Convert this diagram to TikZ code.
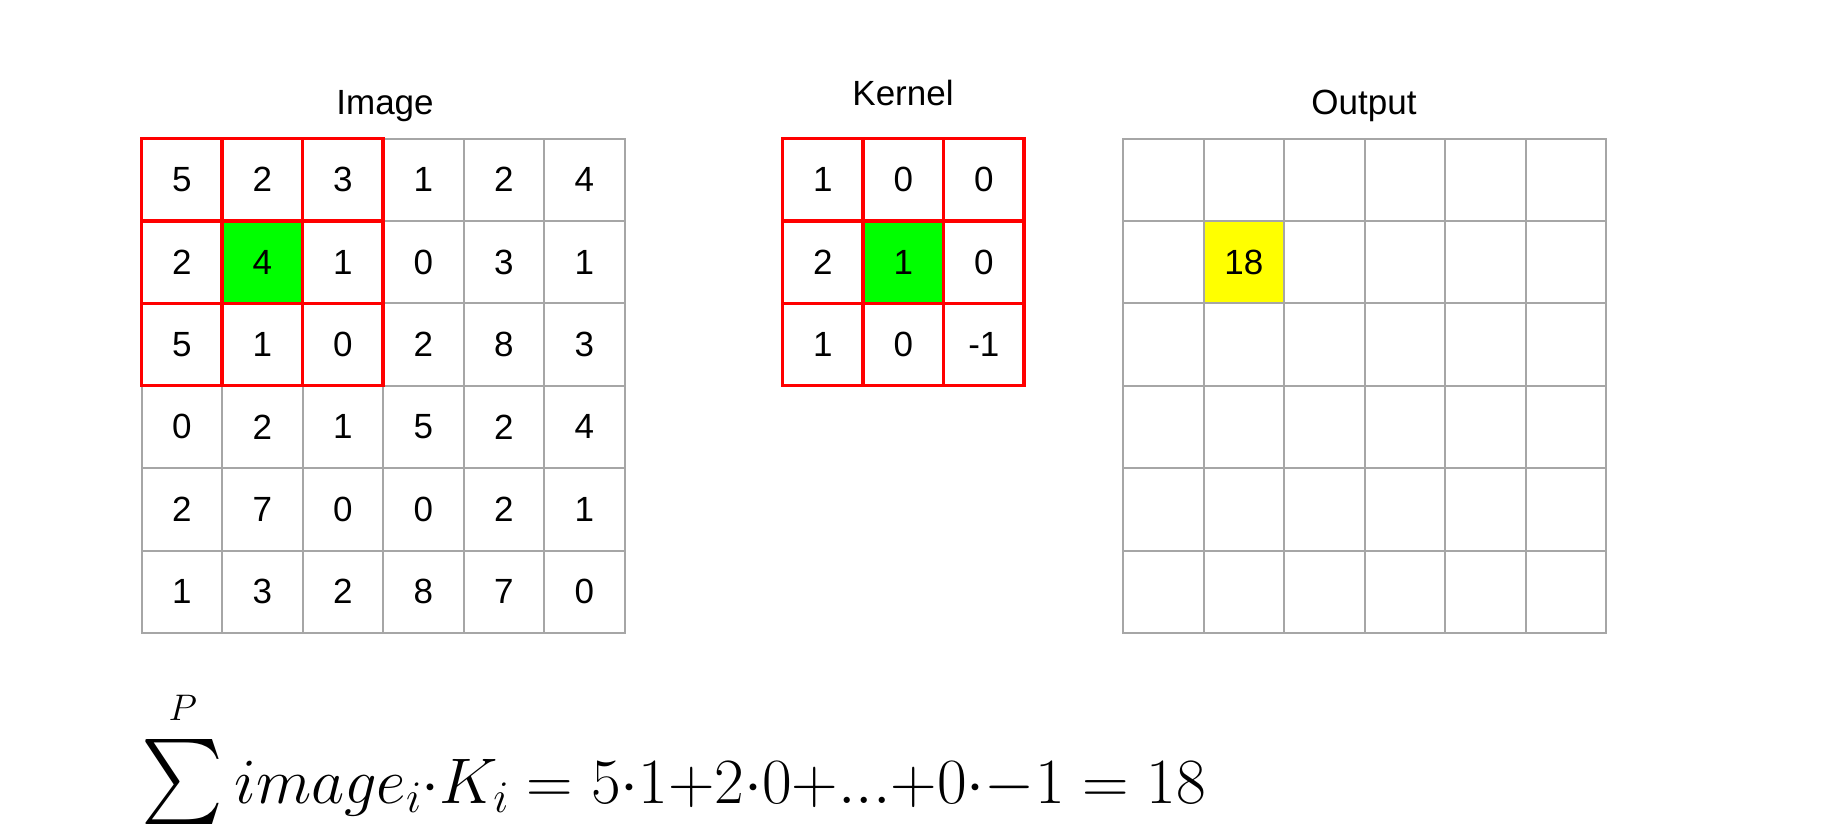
\RequirePackage{fix-cm}
\documentclass[tikz,border=0pt]{standalone}
\usepackage[no-math]{fontspec}
\newfontfamily\arialf{Liberation Sans}
\definecolor{gridgray}{RGB}{166,166,166}
\definecolor{hotred}{RGB}{255,0,0}
\definecolor{hotgreen}{RGB}{0,255,0}
\definecolor{hotyellow}{RGB}{255,255,0}
\newcommand{\bigsumP}{\mathop{\vbox{\hbox to 82pt{\hss\fontsize{37}{40}\selectfont$P$\hss}\kern 13pt\hbox{\resizebox*{82pt}{85pt}{\fontsize{10}{12}\selectfont$\textstyle\sum$}}}}}
\tikzset{
  cell/.style={draw=gridgray, line width=2pt, minimum width=80.5pt, minimum height=82.4pt,
    inner sep=0pt, outer sep=0pt, anchor=center, font=\arialf\fontsize{35}{42}\selectfont},
  hotframe/.style={draw=hotred, line width=3.4pt},
  title/.style={anchor=base, inner sep=0pt, font=\arialf\fontsize{35}{42}\selectfont}
}
\begin{document}
\begin{tikzpicture}[x=1pt,y=-1pt]
\fill[white] (0,0) rectangle (1822,835);
\useasboundingbox (0,0) rectangle (1822,835);

% titles
\node[title] (timage) at (385,114) {Image};
\node[title] (tkernel) at (903,105) {Kernel};
\node[title] (toutput) at (1364,114) {Output};

% image grid
\foreach \row [count=\r from 0] in {{5,2,3,1,2,4},{2,4,1,0,3,1},{5,1,0,2,8,3},{0,2,1,5,2,4},{2,7,0,0,2,1},{1,3,2,8,7,0}}{
  \foreach \v [count=\c from 0] in \row {
    \def\cf{white}
    \ifnum\r=1 \ifnum\c=1 \def\cf{hotgreen}\fi\fi
    \node[cell, fill=\cf] (im-\r-\c) at ({141.5+80.5*(\c+0.5)},{138.5+82.4*(\r+0.5)}) {\v};
  }
}

% kernel grid
\foreach \row [count=\r from 0] in {{1,0,0},{2,1,0},{1,0,-1}}{
  \foreach \v [count=\c from 0] in \row {
    \def\cf{white}
    \ifnum\r=1 \ifnum\c=1 \def\cf{hotgreen}\fi\fi
    \node[cell, fill=\cf] (k-\r-\c) at ({782.6+80.5*(\c+0.5)},{138.5+82.4*(\r+0.5)}) {\v};
  }
}

% output grid
\foreach \r in {0,...,5}{
  \foreach \c in {0,...,5}{
    \def\cf{white}\def\cv{}
    \ifnum\r=1 \ifnum\c=1 \def\cf{hotyellow}\def\cv{18}\fi\fi
    \node[cell, fill=\cf] (out-\r-\c) at ({1123+80.5*(\c+0.5)},{138.5+82.4*(\r+0.5)}) {\cv};
  }
}

% red frames over the 3x3 windows
\foreach \r in {0,1,2}{
  \foreach \c in {0,1,2}{
    \draw[hotframe] (im-\r-\c.north west) rectangle (im-\r-\c.south east);
    \draw[hotframe] (k-\r-\c.north west) rectangle (k-\r-\c.south east);
  }
}

% formula
\node[anchor=base west, inner sep=0pt] (formula) at (141.5,803)
  {\fontsize{64.5}{70}\selectfont$\displaystyle\bigsumP image_i{\cdot}K_i = 5{\cdot}1{+}2{\cdot}0{+}...{+}0{\cdot}{-}1 = 18$};
\end{tikzpicture}
\end{document}
